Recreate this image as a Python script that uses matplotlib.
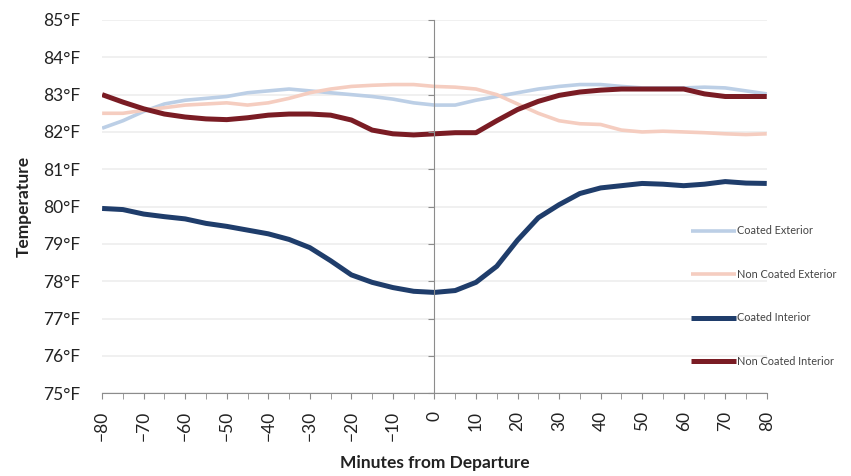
import numpy as np
import matplotlib
matplotlib.use("Agg")
import matplotlib.pyplot as plt
from matplotlib.ticker import MultipleLocator, FuncFormatter

# ── Data (minutes from departure, °F) ─────────────────────────────────────────
minutes = list(range(-80, 81, 5))

coated_exterior = [82.10, 82.30, 82.55, 82.75, 82.85, 82.90, 82.95, 83.05, 83.10,
                   83.15, 83.10, 83.05, 83.00, 82.95, 82.88, 82.78, 82.72, 82.72,
                   82.85, 82.95, 83.05, 83.15, 83.22, 83.27, 83.27, 83.22, 83.18,
                   83.18, 83.18, 83.20, 83.18, 83.10, 83.02]

non_coated_exterior = [82.50, 82.50, 82.58, 82.65, 82.72, 82.75, 82.78, 82.72, 82.78,
                       82.90, 83.05, 83.15, 83.22, 83.25, 83.27, 83.27, 83.22, 83.20,
                       83.15, 83.00, 82.75, 82.50, 82.30, 82.22, 82.20, 82.05, 82.00,
                       82.02, 82.00, 81.98, 81.95, 81.93, 81.95]

coated_interior = [79.95, 79.92, 79.80, 79.73, 79.67, 79.55, 79.47, 79.37, 79.27,
                   79.12, 78.90, 78.55, 78.17, 77.97, 77.83, 77.73, 77.70, 77.75,
                   77.97, 78.40, 79.10, 79.70, 80.05, 80.35, 80.50, 80.56, 80.62,
                   80.60, 80.56, 80.60, 80.67, 80.63, 80.62]

non_coated_interior = [83.00, 82.80, 82.62, 82.48, 82.40, 82.35, 82.33, 82.38, 82.45,
                       82.48, 82.48, 82.45, 82.32, 82.05, 81.95, 81.92, 81.95, 81.98,
                       81.98, 82.30, 82.60, 82.82, 82.98, 83.07, 83.12, 83.15, 83.15,
                       83.15, 83.15, 83.02, 82.95, 82.95, 82.95]

series = [
    ("Coated Exterior", coated_exterior, "#bccfe6", 2.6),
    ("Non Coated Exterior", non_coated_exterior, "#f5cdc0", 2.6),
    ("Coated Interior", coated_interior, "#1f3d6b", 3.6),
    ("Non Coated Interior", non_coated_interior, "#7a1c24", 3.6),
]

plt.rcParams["font.family"] = ["Lato", "DejaVu Sans"]
TXT = "#222222"

fig = plt.figure(figsize=(8.51, 4.76), dpi=100)
ax = fig.add_axes([0.120, 0.174, 0.781, 0.784])

for name, vals, color, lw in series:
    ax.plot(minutes, vals, color=color, lw=lw, label=name,
            solid_capstyle="butt", solid_joinstyle="round", zorder=3)

ax.set_xlim(-80, 80)
ax.set_ylim(75, 85)
ax.yaxis.set_major_locator(MultipleLocator(1))
ax.yaxis.set_major_formatter(FuncFormatter(lambda v, _: f"{v:.0f}°F"))
ax.xaxis.set_major_locator(MultipleLocator(10))
ax.xaxis.set_minor_locator(MultipleLocator(5))
ax.grid(axis="y", color="#eeeeee", lw=1.2, zorder=0)

for s in ["top", "right", "left"]:
    ax.spines[s].set_visible(False)
ax.spines["bottom"].set_color("#8c8c8c")
ax.tick_params(axis="y", length=0, labelsize=12.5, colors=TXT, pad=16)
ax.tick_params(axis="x", which="both", length=4, color="#8c8c8c",
               labelsize=12.5, labelcolor=TXT, labelrotation=90, pad=9)
for lab in ax.get_xticklabels():
    lab.set_va("top")

# vertical axis line at x = 0 with its own ticks
ax2 = ax.twinx()
ax2.set_ylim(ax.get_ylim())
ax2.yaxis.set_major_locator(MultipleLocator(1))
ax2.yaxis.tick_left()
ax2.spines["left"].set_position(("data", 0))
ax2.spines["left"].set_color("#8c8c8c")
for s in ["top", "right", "bottom"]:
    ax2.spines[s].set_visible(False)
ax2.tick_params(axis="y", length=4, color="#8c8c8c", labelleft=False, labelright=False)

ax.set_ylabel("Temperature", fontsize=12.5, fontweight="bold", color=TXT, labelpad=8)
ax.set_xlabel("Minutes from Departure", fontsize=12.5, fontweight="bold", color=TXT, labelpad=10)

handles, labels = ax.get_legend_handles_labels()
fig.legend(handles, labels, loc="center left", bbox_to_anchor=(0.800, 0.378),
           frameon=False, fontsize=7.8, labelspacing=3.0, handlelength=4.2,
           handletextpad=0.1, labelcolor="#444444")

fig.savefig("out.png", dpi=100, facecolor="white")
